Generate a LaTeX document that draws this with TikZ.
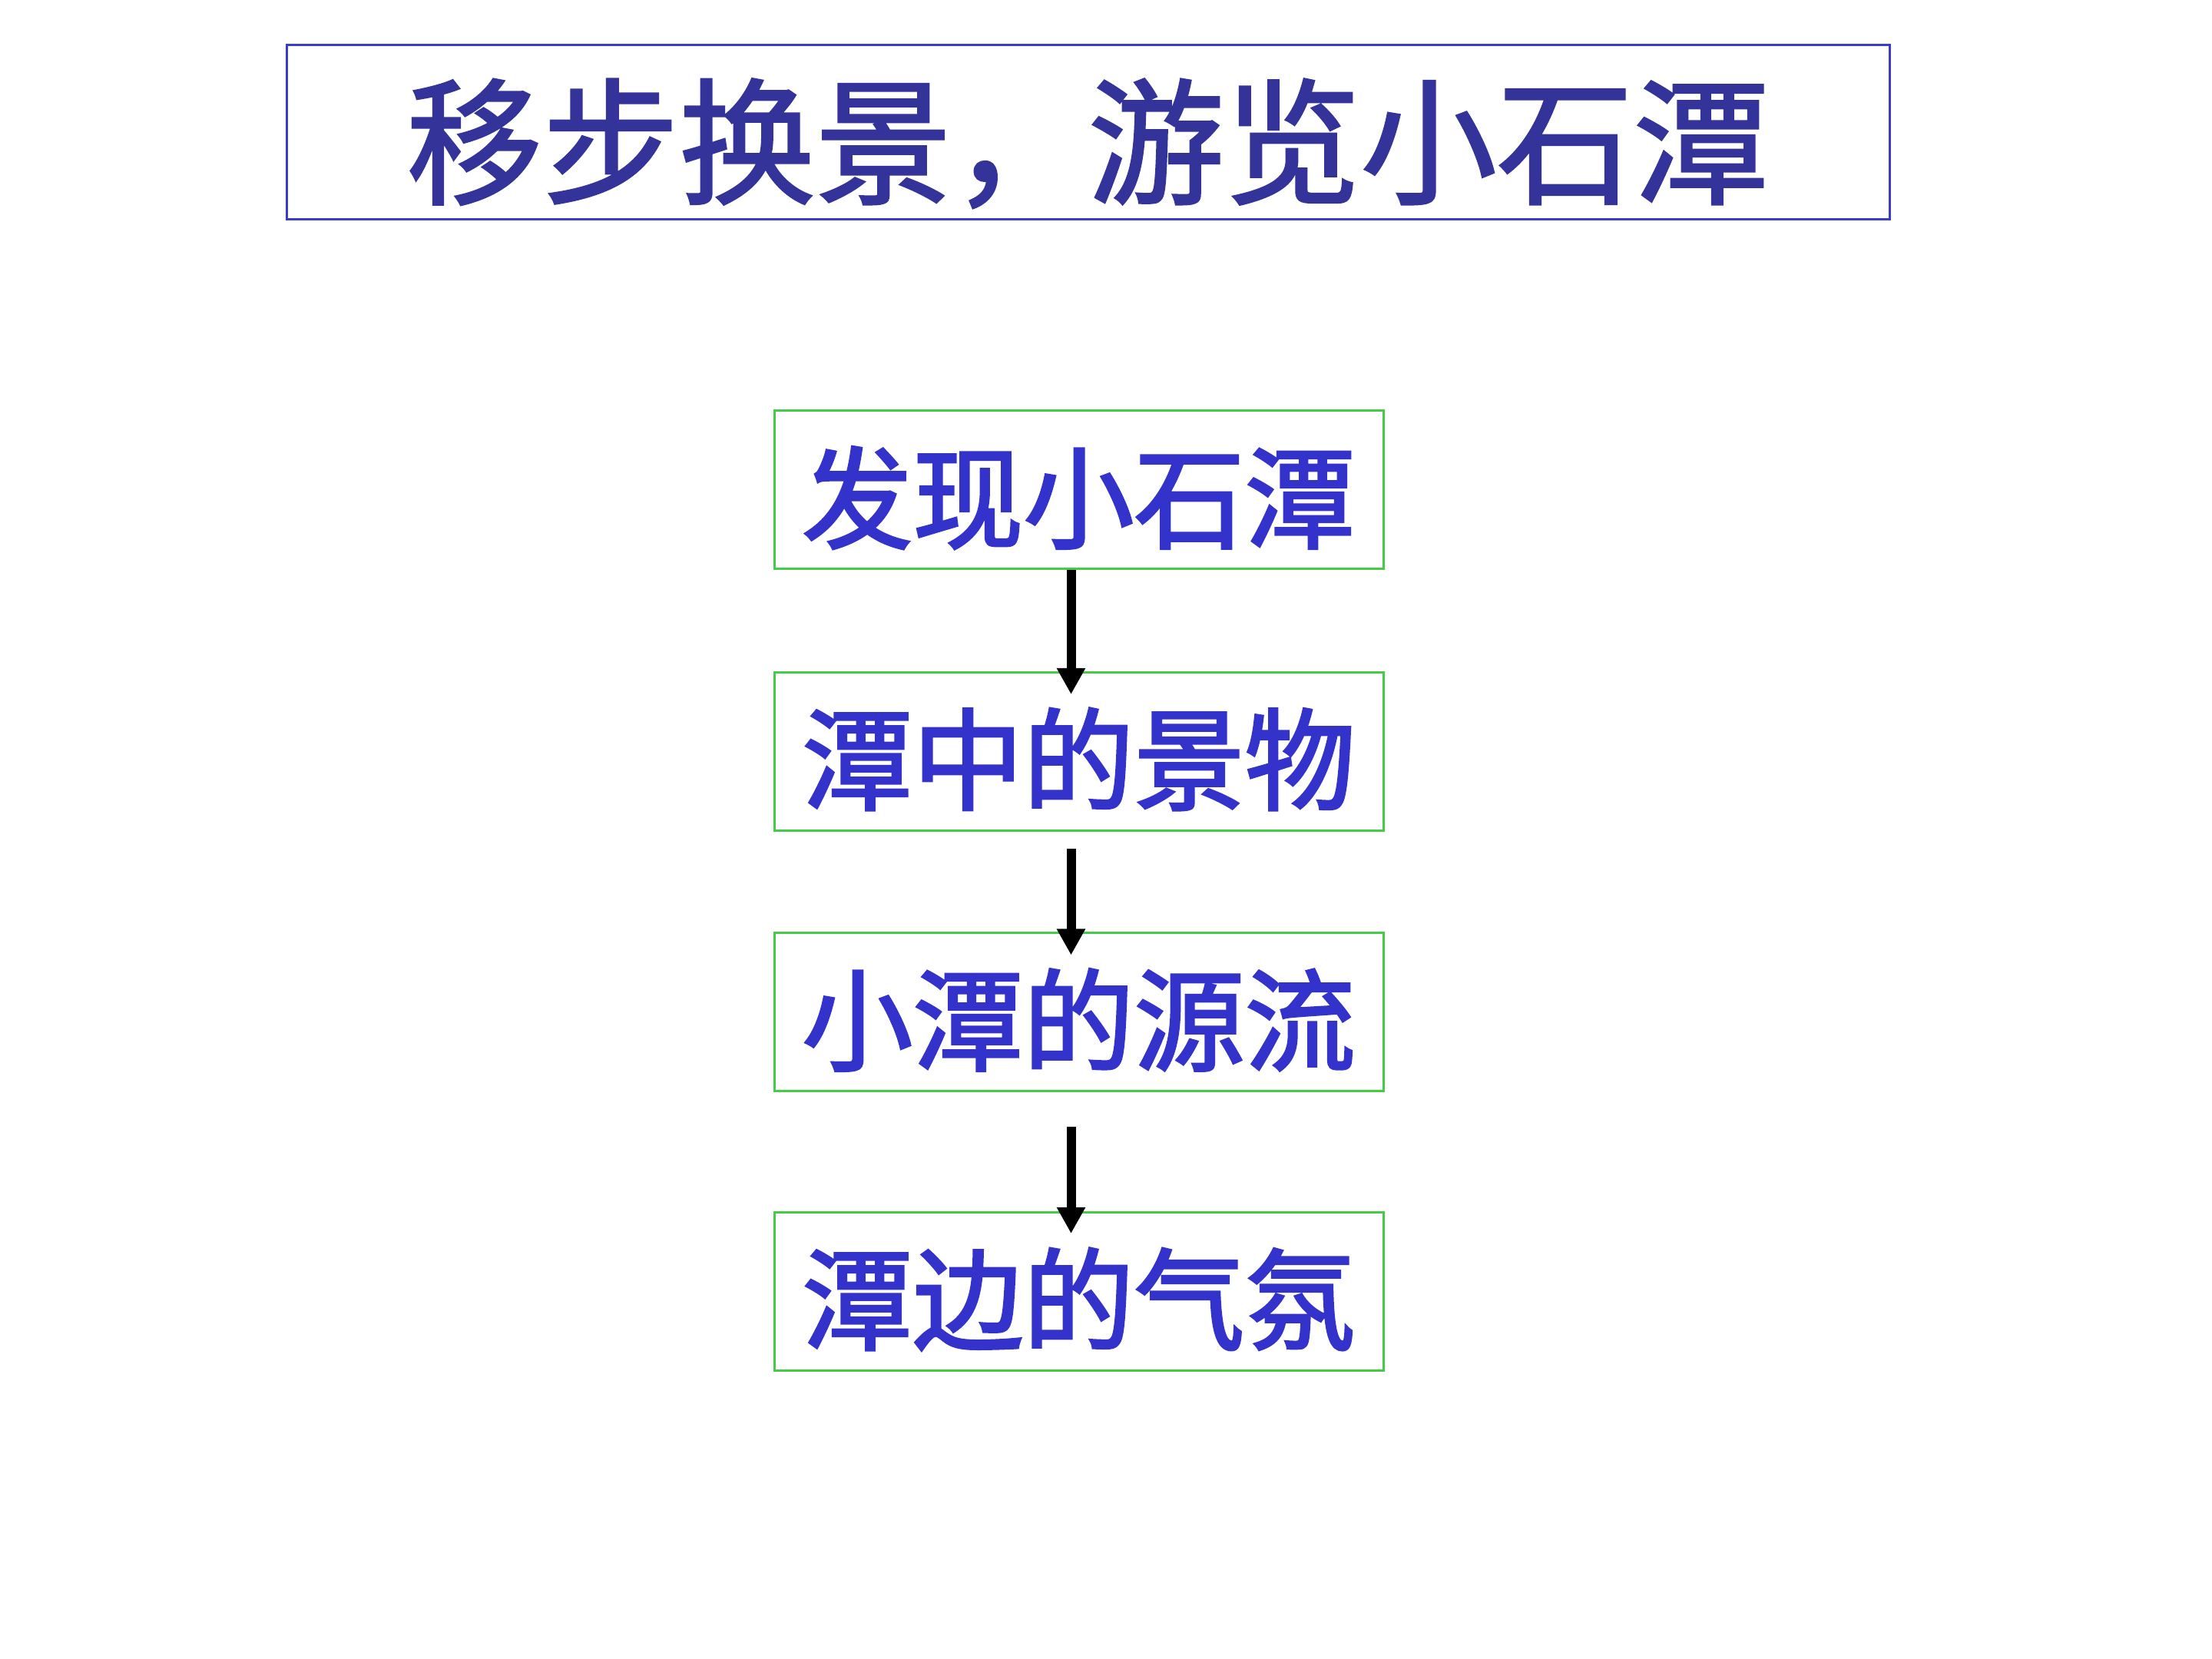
\documentclass[tikz,border=0pt]{standalone}
\usepackage{fontspec}
\usepackage{tikz}
\usepackage{xcolor}
\usetikzlibrary{arrows.meta}
\newfontfamily\cjk[FakeBold=2.2]{Noto Sans CJK SC}
\newfontfamily\cjktitle[FakeBold=1.6]{Noto Sans CJK SC}
\definecolor{titleblue}{HTML}{333399}
\definecolor{lineblue}{HTML}{3C3CCC}
\definecolor{boxblue}{HTML}{3333CC}
\definecolor{boxgreen}{HTML}{44CC44}

\begin{document}
\begin{tikzpicture}[
  stage/.style={draw=boxgreen, line width=0.03cm, minimum width=7.93cm, minimum height=2.06cm, inner sep=0pt, text height=1.5cm, text depth=0.2cm, text=boxblue, font=\cjk\fontsize{41}{41}\selectfont},
  flow/.style={black, line width=0.12cm, -{Triangle[width=0.35cm,length=0.34cm]}}]
\useasboundingbox (0,0) rectangle (28.8,21.6);
\node[draw=lineblue, line width=0.03cm, minimum width=20.87cm, minimum height=2.27cm, inner sep=0pt, text height=1.79cm, text depth=0.2cm, text=titleblue, font=\cjktitle\fontsize{50.5}{50.5}\selectfont] (title) at (14.165,19.875) {移步换景，游览小石潭};
\node[stage] (find) at (14.045,15.22) {发现小石潭};
\node[stage] (scene) at (14.045,11.815) {潭中的景物};
\node[stage] (source) at (14.045,8.42) {小潭的源流};
\node[stage] (mood) at (14.045,4.785) {潭边的气氛};
\draw[flow] ([xshift=-0.1cm]find.south) -- ([xshift=-0.1cm,yshift=-0.3cm]scene.north);
\draw[flow] ([xshift=-0.1cm,yshift=-0.22cm]scene.south) -- ([xshift=-0.1cm,yshift=-0.3cm]source.north);
\draw[flow] ([xshift=-0.1cm,yshift=-0.45cm]source.south) -- ([xshift=-0.1cm,yshift=-0.29cm]mood.north);
\end{tikzpicture}
\end{document}
